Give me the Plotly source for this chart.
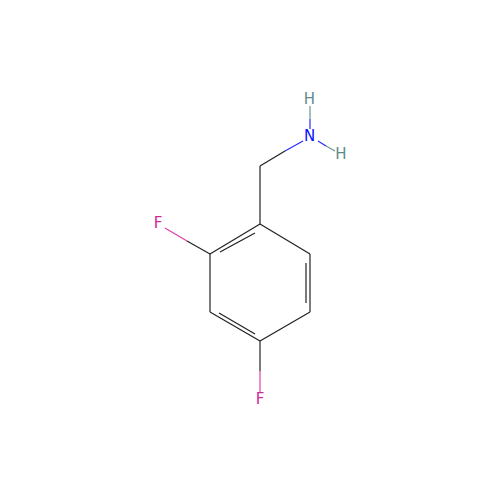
import plotly.graph_objects as go

# bond pieces, each one is x0,y0,x1,y1 in picture pixels
black_bonds = [
    (260, 166, 260, 224),
    (260, 166, 285, 151),
    (260, 224, 210, 254),
    (255, 233, 220, 252),
    (210, 254, 210, 312),
    (210, 312, 260, 341),
    (219, 313, 255, 334),
    (260, 341, 310, 312),
    (310, 312, 310, 254),
    (306, 303, 306, 263),
    (310, 254, 260, 224),
    (210, 254, 187, 241),
    (260, 341, 260, 371),
]
blue_bonds = [
    (285, 151, 303, 141),
    (310, 129, 310, 119),
    (318, 141, 326, 146),
]
grey_bonds = [
    (310, 119, 310, 106),
    (326, 146, 335, 151),
]
pink_bonds = [
    (187, 241, 165, 228),
    (260, 371, 260, 392),
]

label_text = ["H", "N", "H", "F", "F"]
label_x = [309.5, 309.5, 341, 158, 260]
label_y = [100.5, 137, 155, 224, 400]
label_color = ["#5f8a8a", "#0d0dff", "#5f8a8a", "#cc2a96", "#cc2a96"]


def bond_trace(bonds, color):
    xs, ys = [], []
    for x0, y0, x1, y1 in bonds:
        xs += [x0, x1, None]
        ys += [y0, y1, None]
    return go.Scatter(x=xs, y=ys, mode="lines", hoverinfo="skip",
                      line=dict(color=color, width=1.2))


fig = go.Figure()
fig.add_trace(bond_trace(black_bonds, "#222222"))
fig.add_trace(bond_trace(blue_bonds, "#2a2aff"))
fig.add_trace(bond_trace(grey_bonds, "#6b9595"))
fig.add_trace(bond_trace(pink_bonds, "#e040a8"))
fig.add_trace(go.Scatter(x=label_x, y=label_y, text=label_text, mode="text",
                         textposition="middle center",
                         textfont=dict(family="DejaVu Sans", size=15, color=label_color)))

fig.update_layout(width=500, height=500, showlegend=False,
                  margin=dict(l=0, r=0, t=0, b=0),
                  paper_bgcolor="white", plot_bgcolor="white")
fig.update_xaxes(range=[0, 500], visible=False)
fig.update_yaxes(range=[500, 0], visible=False)

# page margin would push the plot off by 8px
fig.write_html("out.html", config={"displayModeBar": False},
               post_script="document.body.style.margin='0';")
